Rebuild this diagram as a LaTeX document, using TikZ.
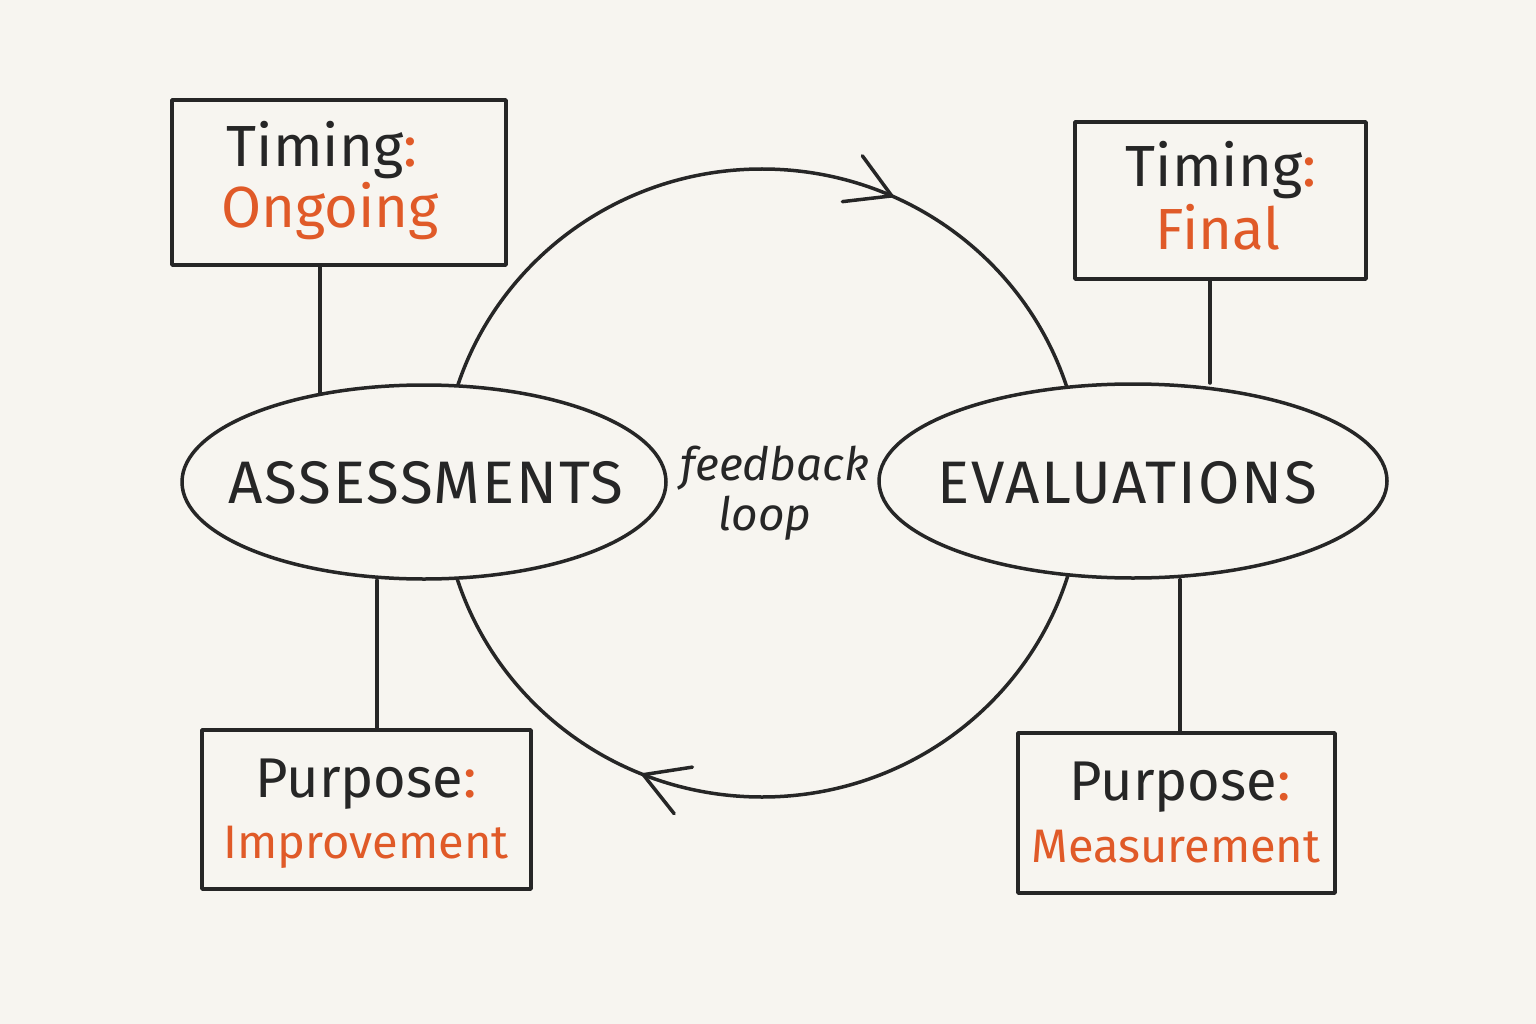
\documentclass[tikz,border=0pt]{standalone}
\usepackage{fontspec}
\setmainfont{Fira Sans}
\newfontfamily\capsfont[LetterSpace=3]{Fira Sans}
\usetikzlibrary{shapes.geometric,decorations.markings}
\definecolor{bg}{HTML}{F7F5F0}
\definecolor{ink}{HTML}{262626}
\definecolor{accent}{HTML}{E05A28}
\begin{document}
\begin{tikzpicture}[x=1pt,y=-1pt,
  line/.style={draw=ink, line width=3.5pt, line cap=round, line join=round},
  box/.style={line, rectangle, inner sep=0pt, fill=bg},
  oval/.style={line, ellipse, inner sep=0pt, fill=bg},
  big/.style={text=ink, inner sep=0pt, anchor=base, font=\fontsize{58}{60}\selectfont},
  mid/.style={text=ink, inner sep=0pt, anchor=base, font=\fontsize{56}{60}\selectfont},
  sub/.style={text=accent, inner sep=0pt, anchor=base, font=\fontsize{47}{50}\selectfont},
  oname/.style={text=ink, inner sep=0pt, anchor=base, font=\capsfont\fontsize{60}{62}\selectfont},
  note/.style={text=ink, inner sep=0pt, anchor=base, font=\itshape\fontsize{46}{50}\selectfont},
  barb/.style={line}
]
\fill[bg] (0,0) rectangle (1536,1024);
\useasboundingbox (0,0) rectangle (1536,1024);

% feedback loop (clockwise on screen)
\coordinate (lc) at (762,483);
\draw[line, postaction={decorate}, decoration={markings,
   mark=at position 0.317 with {\draw[barb] (-43,25) -- (0,0) -- (-43,-25);},
   mark=at position 0.811 with {\draw[barb] (-43,25) -- (0,0) -- (-43,-25);}}]
  (lc) ++(-320,0) arc[start angle=180, end angle=540, x radius=320, y radius=314];

% ellipses
\node[oval, minimum width=484pt, minimum height=194pt] (ass) at (424,482) {};
\node[oval, minimum width=508pt, minimum height=194pt] (eva) at (1133,481) {};
\node[oname] (assT) at (426,503) {ASSESSMENTS};
\node[oname] (evaT) at (1127,503) {EVALUATIONS};

% boxes
\node[box, minimum width=334pt, minimum height=165pt] (tl) at (339,182.5) {};
\node[box, minimum width=291pt, minimum height=157pt] (tr) at (1220.5,200.5) {};
\node[box, minimum width=329pt, minimum height=159pt] (bl) at (366.5,809.5) {};
\node[box, minimum width=317pt, minimum height=160pt] (br) at (1176.5,813) {};

\node[big] (tlA) at (322,167) {Timing\textcolor{accent}{:}};
\node[big, text=accent] (tlB) at (330,228) {Ongoing};
\node[big] (trA) at (1221,187) {Timing\textcolor{accent}{:}};
\node[big, text=accent] (trB) at (1218,250) {Final};
\node[mid] (blA) at (366,797) {Purpose\textcolor{accent}{:}};
\node[sub] (blB) at (366,858) {Improvement};
\node[mid] (brA) at (1180,800) {Purpose\textcolor{accent}{:}};
\node[sub] (brB) at (1176,862) {Measurement};

% connectors
\draw[line] ([xshift=-19pt]tl.south) -- ([xshift=-19pt]tl.south |- ass.140);
\draw[line] ([xshift=10.5pt]bl.north) -- ([xshift=10.5pt]bl.north |- ass.-79);
\draw[line] ([xshift=-10.5pt]tr.south) -- ([xshift=-10.5pt]tr.south |- eva.72);
\draw[line] ([xshift=3.5pt]br.north) -- ([xshift=3.5pt]br.north |- eva.-85);

% label
\node[note] (fb1) at (775,480) {feedback};
\node[note] (fb2) at (765,530) {loop};
\end{tikzpicture}
\end{document}
